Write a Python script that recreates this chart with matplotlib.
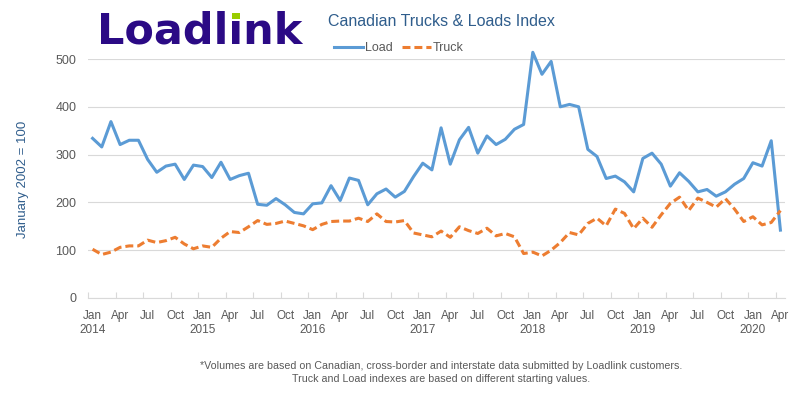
import numpy as np
import matplotlib.pyplot as plt
from matplotlib.patches import Rectangle

# monthly index values, Jan 2014 .. Apr 2020
quarters = ['Jan', 'Apr', 'Jul', 'Oct']
years = [2014, 2015, 2016, 2017, 2018, 2019, 2020]

load = [334, 316, 369, 321, 330, 330, 290, 263, 276, 280, 248, 278,
        275, 252, 284, 248, 256, 261, 196, 194, 208, 195, 179, 176,
        197, 199, 235, 204, 251, 246, 195, 218, 228, 211, 223, 254,
        282, 268, 356, 280, 331, 357, 303, 339, 321, 332, 353, 363,
        514, 468, 495, 400, 405, 400, 311, 296, 250, 255, 243, 222,
        292, 303, 280, 234, 262, 244, 222, 227, 213, 222, 238, 250,
        283, 276, 329, 142]

truck = [102, 91, 96, 106, 109, 109, 121, 116, 120, 127, 113, 103,
         109, 106, 125, 139, 137, 149, 162, 154, 156, 161, 156, 151,
         143, 154, 160, 161, 161, 167, 160, 176, 160, 159, 162, 136,
         132, 128, 140, 127, 149, 141, 135, 146, 130, 135, 128, 93,
         96, 88, 100, 116, 137, 132, 156, 167, 151, 186, 177, 145,
         167, 148, 174, 198, 211, 183, 209, 200, 190, 208, 186, 160,
         170, 153, 158, 183]

plt.rcParams['font.family'] = ['Liberation Sans', 'DejaVu Sans']

W, H = 800, 398
fig = plt.figure(figsize=(W / 100, H / 100), dpi=100)
ax = fig.add_axes([88 / W, 1 - 298 / H, 697 / W, 239 / H])

x = np.arange(len(load))
ax.plot(x, load, color='#5B9BD5', lw=2.2, label='Load', clip_on=False)
ax.plot(x, truck, color='#ED7D31', lw=2.2, ls=(0, (2.6, 1.3)), label='Truck', clip_on=False)

ax.set_ylim(0, 500)
ax.set_xlim(-0.5, len(load) - 0.5)
ax.set_yticks(range(0, 501, 100))
ax.yaxis.grid(True, color='#D9D9D9', lw=0.8)
ax.set_axisbelow(True)
for s in ['top', 'right', 'left']:
    ax.spines[s].set_visible(False)
ax.spines['bottom'].set_color('#D9D9D9')

# tick marks between categories, labels on the quarter months
qpos = list(range(0, len(load), 3))
ax.set_xticks([p - 0.5 for p in qpos])
ax.set_xticklabels([])
labels = []
for p in qpos:
    lab = quarters[(p // 3) % 4]
    if p % 12 == 0:
        lab += '\n' + str(years[p // 12])
    labels.append(lab)
ax.set_xticks(qpos, minor=True)
ax.set_xticklabels(labels, minor=True)
ax.tick_params(axis='x', which='major', direction='in', length=4, color='#D9D9D9')
ax.tick_params(axis='x', which='minor', length=0, pad=8.5, labelsize=8.5, labelcolor='#595959')
ax.tick_params(axis='y', length=0, pad=8.5, labelsize=9, labelcolor='#595959')

fig.text(23 / W, 1 - 179 / H, 'January 2002 = 100', rotation=90, ha='center', va='center',
         fontsize=9.5, color='#2F5D8C')

# logo
fig.text(97 / W, 1 - 44 / H, 'Loadl\u0131nk', family='DejaVu Sans', fontweight='bold',
         fontsize=31, color='#2B0A85', ha='left', va='baseline')
fig.patches.append(Rectangle((232 / W, 1 - 18.5 / H), 8 / W, 6 / H, transform=fig.transFigure,
                             facecolor='#99CC00', edgecolor='none'))

fig.text(328 / W, 1 - 21.5 / H, 'Canadian Trucks & Loads Index', ha='left', va='center',
         fontsize=11.5, color='#2F5D8C')

leg = ax.legend(loc='center left', bbox_to_anchor=(334 / W, 1 - 48 / H),
                bbox_transform=fig.transFigure, ncol=2, frameon=False, fontsize=9,
                handlelength=2.3, handletextpad=0.2, columnspacing=0.7,
                borderpad=0, borderaxespad=0)
for t in leg.get_texts():
    t.set_color('#595959')

fig.text(441 / W, 1 - 366 / H,
         '*Volumes are based on Canadian, cross-border and interstate data submitted by Loadlink customers.',
         ha='center', va='center', fontsize=7.7, color='#595959')
fig.text(441 / W, 1 - 379 / H, 'Truck and Load indexes are based on different starting values.',
         ha='center', va='center', fontsize=7.7, color='#595959')

fig.savefig('out.png', dpi=100)
